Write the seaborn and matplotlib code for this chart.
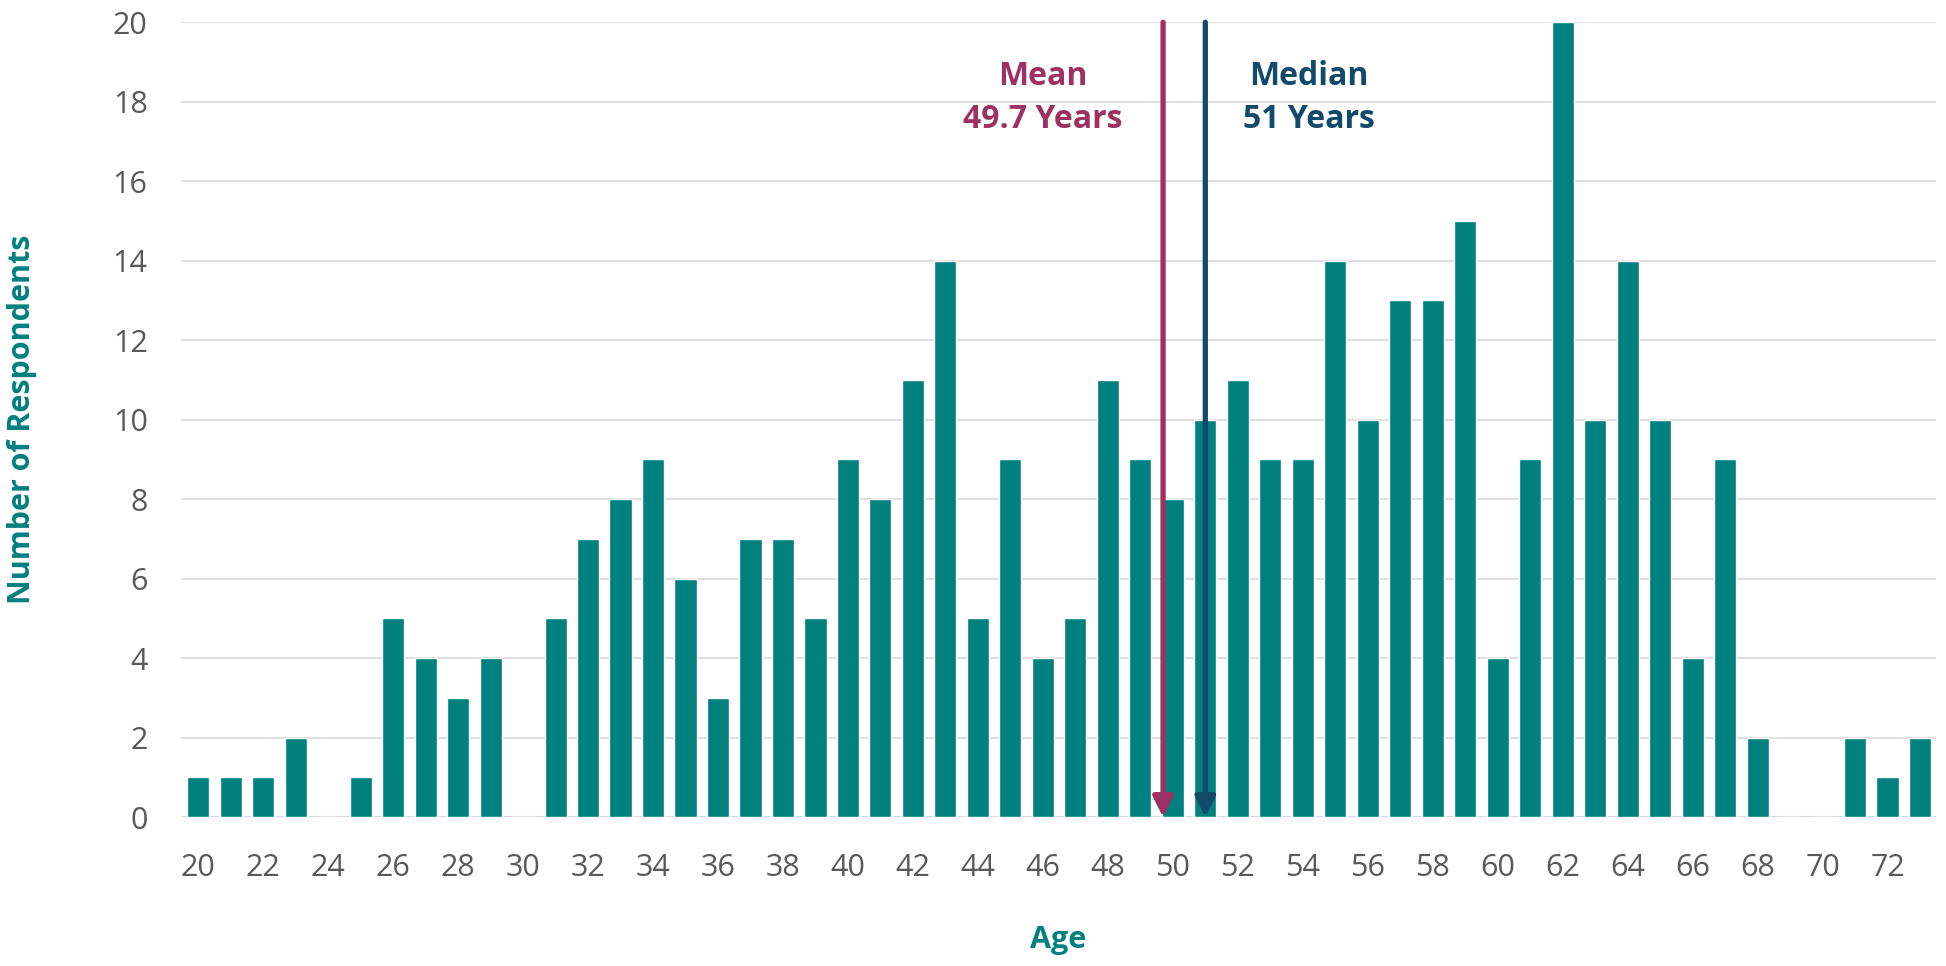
import matplotlib
matplotlib.use('Agg')
import matplotlib.pyplot as plt
import seaborn as sns
import pandas as pd

ages = list(range(20, 74))
counts = [1, 1, 1, 2, 0, 1, 5, 4, 3, 4,
          0, 5, 7, 8, 9, 6, 3, 7, 7, 5,
          9, 8, 11, 14, 5, 9, 4, 5, 11, 9,
          8, 10, 11, 9, 9, 14, 10, 13, 13, 15,
          4, 9, 20, 10, 14, 10, 4, 9, 2, 0,
          0, 2, 1, 2]
mean_age = 49.7
median_age = 51

teal = '#00807F'
mean_col = '#9E3163'
median_col = '#124A6B'
tick_col = '#595959'

sns.set_theme(style='white')
plt.rcParams['font.family'] = ['Open Sans', 'DejaVu Sans']

df = pd.DataFrame({'Age': ages, 'Count': counts})

fig, ax = plt.subplots(figsize=(19.46, 9.66), dpi=100)
fig.subplots_adjust(left=0.093, right=0.995, top=0.977, bottom=0.154)

sns.barplot(data=df, x='Age', y='Count', order=ages, color=teal,
            saturation=1, width=0.68, ax=ax, zorder=3)

ax.set_ylim(0, 20)
ax.set_xlim(-0.53, len(ages) - 0.5)
ax.set_yticks(range(0, 21, 2))
ax.yaxis.grid(True, color='#D9D9D9', linewidth=1.2, zorder=0)
ax.set_axisbelow(True)
for s in ax.spines.values():
    s.set_visible(False)
ax.axhline(0, color='#D9D9D9', linewidth=1.5, zorder=1)

ax.set_xticks([a - 20 for a in ages if a % 2 == 0])
ax.set_xticklabels([str(a) for a in ages if a % 2 == 0])
ax.tick_params(axis='both', labelsize=22, colors=tick_col, length=0)
ax.tick_params(axis='x', pad=26)
ax.tick_params(axis='y', pad=24)

ax.set_xlabel('Age', fontsize=22, fontweight='bold', color=teal, labelpad=30)
ax.set_ylabel('Number of Respondents', fontsize=22, fontweight='bold',
              color=teal, labelpad=44)
ax.yaxis.set_label_coords(-0.082, 0.5)

# mean / median arrows
for val, col in [(mean_age, mean_col), (median_age, median_col)]:
    x = val - ages[0]
    ax.annotate('', xy=(x, 0), xytext=(x, 20),
                arrowprops=dict(arrowstyle='-|>', color=col, lw=3.8,
                                mutation_scale=30, shrinkA=0, shrinkB=0),
                zorder=5, annotation_clip=False)

ax.text(mean_age - ages[0] - 3.7, 18.1, 'Mean\n%.1f Years' % mean_age,
        ha='center', va='center', color=mean_col, fontsize=23,
        fontweight='bold', linespacing=1.4)
ax.text(median_age - ages[0] + 3.2, 18.1, 'Median\n%d Years' % median_age,
        ha='center', va='center', color=median_col, fontsize=23,
        fontweight='bold', linespacing=1.4)

fig.savefig('out.png', dpi=100)
